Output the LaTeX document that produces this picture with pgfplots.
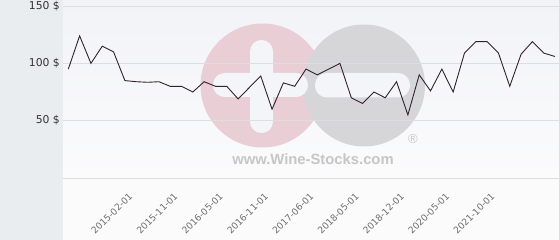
\documentclass[border=0pt]{standalone}
\usepackage{pgfplots}
\pgfplotsset{compat=1.18}
\usepackage{pgfplotstable}
\usepackage{fontspec}
\setmainfont{DejaVu Sans}
\newfontfamily\logofont{Liberation Sans}
\definecolor{panel}{RGB}{233,237,240}
\definecolor{belowc}{RGB}{251,251,252}
\definecolor{bgtop}{RGB}{242,243,247}
\definecolor{bgbot}{RGB}{251,251,252}
\definecolor{pinkc}{RGB}{233,206,214}
\definecolor{grayc}{RGB}{214,214,217}
\definecolor{logow}{RGB}{244,245,248}
\definecolor{logotext}{RGB}{198,198,200}
\definecolor{gridc}{RGB}{222,222,226}
\definecolor{linec}{RGB}{52,34,44}
\definecolor{ylab}{RGB}{51,51,51}
\definecolor{xlab}{RGB}{110,110,110}
\pgfplotstableread{
x y
0 95
1 124
2 100
3 115
4 110
5 85
6 84
7 83.5
8 84
9 80
10 80
11 75
12 84
13 80
14 80
15 69
16 79
17 89
18 60
19 83
20 80
21 95
22 90
23 95
24 100
25 70
26 65
27 75
28 70
29 84
30 55
31 90
32 76
33 95
34 75
35 109
36 119
37 119
38 109
39 80
40 108
41 119
42 109
43 106
}\prices
\begin{document}
\begin{tikzpicture}[x=1pt,y=1pt]
\fill[panel] (0,0) rectangle (63,240);
\fill[belowc] (63,0) rectangle (560,62);
\shade[top color=bgtop, bottom color=bgbot] (63,62) rectangle (560,240);
% watermark
\fill[pinkc] (262.5,154.5) circle (62);
\fill[grayc] (364,154.5) circle (61);
\fill[logow, rounded corners=11.4pt] (250,107) rectangle (273,200);
\fill[logow, rounded corners=11.9pt] (213,143) rectangle (308,167);
\fill[logow, rounded corners=11.9pt] (315,142.5) rectangle (410,167);
\node[text=logotext, font=\logofont\bfseries\fontsize{14.8}{16}\selectfont, anchor=base, inner sep=0pt] at (313,75) {www.Wine-Stocks.com};
\node[text=logotext, font=\logofont\fontsize{13}{14}\selectfont, inner sep=0pt] at (413,101) {®};
\draw[color=gridc, line width=0.8pt] (559.5,0) -- (559.5,240);
\begin{axis}[
  at={(63pt,62pt)}, anchor=south west,
  scale only axis, width=496pt, height=178pt,
  xmin=-0.468, xmax=43.35, ymin=0, ymax=155.3,
  axis line style={draw=none},
  major tick length=0pt,
  ytick={50,100,150},
  yticklabels={50 \$, 100 \$, 150 \$},
  ymajorgrids,
  grid style={color=gridc, line width=0.8pt},
  extra y ticks={0}, extra y tick labels={},
  xtick={6,10,...,38},
  xticklabels={2015-02-01,2015-11-01,2016-05-01,2016-11-01,2017-06-01,2018-05-01,2018-12-01,2020-05-01,2021-10-01},
  yticklabel style={font=\fontsize{10.8}{12}\selectfont, text=ylab, anchor=east, inner sep=0pt, xshift=-3pt},
  xticklabel style={font=\fontsize{9.2}{10}\selectfont, text=xlab, xshift=-8pt, yshift=-14pt, rotate=45, anchor=north east, inner sep=0pt},
  clip=false,
]
\addplot[color=linec, line width=0.9pt, mark=none] table[x=x, y=y] {\prices};
\end{axis}
\pgfresetboundingbox
\path[use as bounding box] (0,0) rectangle (560,240);
\end{tikzpicture}
\end{document}
